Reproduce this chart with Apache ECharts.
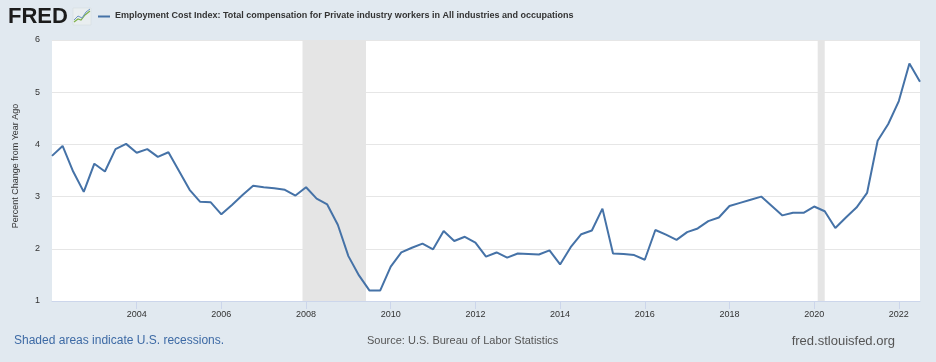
<!DOCTYPE html>
<html>
<head>
<meta charset="utf-8">
<script src="https://cdn.jsdelivr.net/npm/echarts@6/dist/echarts.min.js"></script>
<style>
html,body{margin:0;padding:0;background:#e1e9f0;}
#chart{width:936px;height:362px;}
</style>
</head>
<body>
<div id="chart"></div>
<script>
// Quarterly observations, 2002-01-01 .. 2022-07-01
var startYear = 2002;
var values = [
  3.78, 3.97, 3.48, 3.09,
  3.63, 3.48, 3.91, 4.01,
  3.84, 3.91, 3.76, 3.85,
  3.49, 3.13, 2.90, 2.89,
  2.66, 2.84, 3.03, 3.21,
  3.18, 3.16, 3.13, 3.02,
  3.18, 2.96, 2.85, 2.46,
  1.86, 1.49, 1.20, 1.20,
  1.66, 1.93, 2.02, 2.10,
  1.99, 2.34, 2.15, 2.23,
  2.12, 1.85, 1.93, 1.83,
  1.91, 1.90, 1.89, 1.97,
  1.70, 2.03, 2.28, 2.35,
  2.77, 1.91, 1.90, 1.88,
  1.79, 2.36, 2.27, 2.17,
  2.32, 2.39, 2.53, 2.60,
  2.82, 2.88, 2.94, 3.00,
  2.82, 2.64, 2.69, 2.69,
  2.81, 2.72, 2.40, 2.60,
  2.79, 3.07, 4.07, 4.39,
  4.83, 5.55, 5.20
];
var xTickLabels = [2004, 2006, 2008, 2010, 2012, 2014, 2016, 2018, 2020, 2022];
var yTickLabels = [1, 2, 3, 4, 5, 6];
// recession periods [start, end] as year + (month-1)/12
var recessions = [
  [2007 + 11/12, 2009 + 5/12],
  [2020 + 1/12, 2020 + 3/12]
];
var seriesName = 'Employment Cost Index: Total compensation for Private industry workers in All industries and occupations';
var yAxisName = 'Percent Change from Year Ago';

var data = values.map(function (v, i) { return [startYear + i / 4, v]; });

var chart = echarts.init(document.getElementById('chart'), null, {renderer: 'canvas'});
var fontFam = '"Liberation Sans", Arial, Helvetica, sans-serif';
chart.setOption({
  backgroundColor: '#e1e9f0',
  animation: false,
  grid: {left: 52, right: 16, top: 40, bottom: 61, show: true, backgroundColor: '#ffffff', borderWidth: 0},
  xAxis: {
    type: 'value',
    min: startYear,
    max: startYear + (values.length - 1) / 4,
    interval: 2,
    axisLine: {show: true, lineStyle: {color: '#ccd6eb', width: 1}},
    axisTick: {show: true, length: 8, lineStyle: {color: '#ccd6eb'}, customValues: xTickLabels},
    axisLabel: {color: '#333333', fontSize: 9, fontFamily: fontFam, margin: 9, customValues: xTickLabels,
      formatter: function (v) { return String(Math.round(v)); }},
    splitLine: {show: false}
  },
  yAxis: {
    type: 'value',
    min: 1, max: 6, interval: 1,
    axisLine: {show: false},
    axisTick: {show: false},
    axisLabel: {color: '#333333', fontSize: 9, fontFamily: fontFam, margin: 12, customValues: yTickLabels},
    splitLine: {show: true, lineStyle: {color: '#e6e6e6', width: 1}}
  },
  series: [{
    name: seriesName,
    type: 'line',
    data: data,
    showSymbol: false,
    symbol: 'none',
    lineStyle: {color: '#4572a7', width: 2},
    markArea: {
      silent: true,
      itemStyle: {color: '#e5e5e5'},
      data: recessions.map(function (r) { return [{xAxis: r[0]}, {xAxis: r[1]}]; })
    },
    z: 3
  }],
  graphic: [
    {type: 'text', left: 8, top: 6, style: {text: 'FRED', font: 'bold 22px ' + fontFam, fill: '#1c1c1c'}},
    {type: 'rect', shape: {x: 73, y: 8, width: 18, height: 17}, style: {fill: '#e9eef0', stroke: '#d3dade', lineWidth: 0.5}},
    {type: 'polyline', shape: {points: [[74, 22], [78, 19], [81, 20], [85, 15], [90, 11]]}, style: {stroke: '#7fb24a', lineWidth: 1.2, fill: null}},
    {type: 'polyline', shape: {points: [[74, 20], [78, 16], [82, 18], [86, 12], [90, 9]]}, style: {stroke: '#6d94c2', lineWidth: 1, fill: null}},
    {type: 'line', shape: {x1: 98, y1: 16.5, x2: 110, y2: 16.5}, style: {stroke: '#4572a7', lineWidth: 2}},
    {type: 'text', left: 115, top: 11, style: {text: seriesName, font: 'bold 9px ' + fontFam, fill: '#333333'}},
    {type: 'text', x: 16, y: 166, rotation: Math.PI / 2,
      style: {text: yAxisName, font: '9px ' + fontFam, fill: '#333333', align: 'center', verticalAlign: 'middle'}},
    {type: 'text', left: 14, top: 335, style: {text: 'Shaded areas indicate U.S. recessions.', font: '12px ' + fontFam, fill: '#3d6aa5'}},
    {type: 'text', left: 367, top: 335.5, style: {text: 'Source: U.S. Bureau of Labor Statistics', font: '11px ' + fontFam, fill: '#555555'}},
    {type: 'text', right: 41, top: 334.5, style: {text: 'fred.stlouisfed.org', font: '13px ' + fontFam, fill: '#555555'}}
  ]
});
</script>
</body>
</html>
